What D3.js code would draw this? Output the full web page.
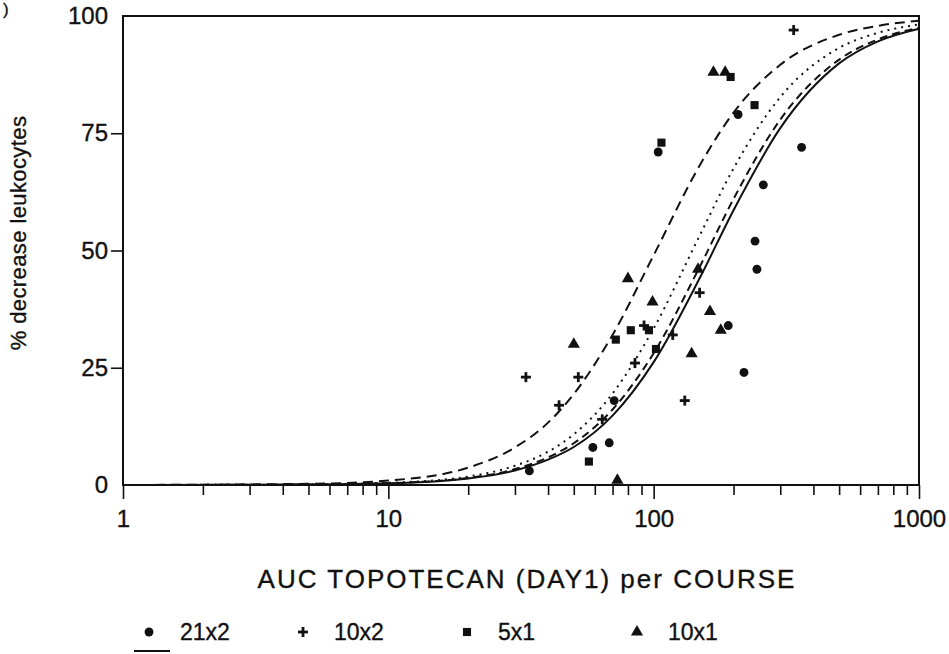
<!DOCTYPE html>
<html>
<head>
<meta charset="utf-8">
<script src="https://cdn.jsdelivr.net/npm/d3@7/dist/d3.min.js"></script>
<style>
  html, body { margin: 0; padding: 0; background: #fff; }
  svg { display: block; }
  text { font-family: "Liberation Sans", Arial, Helvetica, sans-serif; fill: #111; stroke: #111; stroke-width: 0.35px; }
</style>
</head>
<body>
<svg id="chart" width="949" height="654"></svg>
<script>
// Observed leukocyte decrease (%) against AUC per course, by schedule
const sched21x2 = [[34,3],[59,8],[68,9],[71,18],[104,71],[191,34],[208,79],[219,24],[241,52],[245,46],[259,64],[361,72]];
const sched10x2 = [[33,23],[44,17],[52,23],[64,14],[85,26],[92,34],[118,32],[131,18],[149,41],[337,97]];
const sched5x1  = [[57,5],[72,31],[82,33],[96,33],[102,29],[107,73],[195,87],[240,81]];
const sched10x1 = [[50,30],[73,1],[80,44],[99,39],[139,28],[147,46],[163,37],[179,33],[168,88],[186,88]];

// Fitted response curves, sampled along the AUC axis
const curveAuc      = [1, 5, 10, 20, 30, 40, 50, 70, 100, 150, 200, 300, 500, 700, 1000];
const curveLongDash = [0, 0.24, 0.95, 3.7, 8.0, 13.3, 19.4, 32.0, 49.0, 68.4, 79.4, 89.6, 96.0, 97.9, 99.0];
const curveDotted   = [0, 0.11, 0.45, 1.8, 4.1, 7.1, 10.8, 19.5, 33.4, 53.5, 67.5, 82.7, 93.2, 96.4, 98.2];
const curveDashed   = [0, 0.10, 0.39, 1.5, 3.4, 5.9, 8.9, 16.1, 28.1, 46.8, 61.0, 77.9, 90.7, 95.0, 97.5];
const curveSolid    = [0, 0.09, 0.35, 1.4, 3.1, 5.4, 8.1, 14.8, 26.2, 44.4, 58.6, 76.1, 89.9, 94.6, 97.3];

const xTickLabels = [1, 10, 100, 1000];
const yTickLabels = [0, 25, 50, 75, 100];
const legendNames = ["21x2", "10x2", "5x1", "10x1"];

const svg = d3.select("#chart");
const plotLeft = 123, plotRight = 919, plotTop = 16, plotBottom = 485;

const x = d3.scaleLog().domain([1, 1000]).range([plotLeft, plotRight]);
const y = d3.scaleLinear().domain([0, 100]).range([plotBottom, plotTop]);

// panel-label fragment at the corner
svg.append("text").attr("x", 3).attr("y", 15).attr("font-size", 17).text(")");

// x axis: log ticks pointing down
const minorTicks = [];
for (let d = 1; d < 1000; d *= 10) {
  for (let k = 2; k <= 9; k++) minorTicks.push(d * k);
}
const xAxisMinor = d3.axisBottom(x).tickValues(minorTicks).tickSize(10).tickFormat("");
const gxm = svg.append("g").attr("transform", `translate(0,${plotBottom})`).call(xAxisMinor);
gxm.select(".domain").remove();
gxm.selectAll("line").attr("stroke", "#111").attr("stroke-width", 1.6);

const xAxisMajor = d3.axisBottom(x).tickValues(xTickLabels).tickSize(14).tickPadding(11).tickFormat(d3.format("d"));
const gx = svg.append("g").attr("transform", `translate(0,${plotBottom})`).call(xAxisMajor);
gx.select(".domain").remove();
gx.selectAll("line").attr("stroke", "#111").attr("stroke-width", 1.6);
gx.selectAll("text").attr("font-size", 24).attr("font-family", "Liberation Sans, Arial, sans-serif").attr("fill", "#111");

// y axis
const yAxis = d3.axisLeft(y).tickValues(yTickLabels).tickSize(12).tickPadding(4).tickFormat(d3.format("d"));
const gy = svg.append("g").attr("transform", `translate(${plotLeft},0)`).call(yAxis);
gy.select(".domain").remove();
gy.selectAll(".tick line").attr("stroke", "#111").attr("stroke-width", 1.6)
  .attr("x2", d => (d === 0 || d === 100) ? 0 : -12);
gy.selectAll("text").attr("font-size", 24).attr("font-family", "Liberation Sans, Arial, sans-serif").attr("fill", "#111")
  .attr("x", -15);

// frame
svg.append("rect").attr("x", plotLeft).attr("y", plotTop)
  .attr("width", plotRight - plotLeft).attr("height", plotBottom - plotTop)
  .attr("fill", "none").attr("stroke", "#111").attr("stroke-width", 2);

// curves
const line = d3.line().x(d => x(d[0])).y(d => y(d[1])).curve(d3.curveMonotoneX);
const curves = [
  { values: curveLongDash, dash: "10,6" },
  { values: curveDotted,   dash: "2,5" },
  { values: curveDashed,   dash: "8,5" },
  { values: curveSolid,    dash: null }
];
curves.forEach(c => {
  svg.append("path")
    .datum(curveAuc.map((a, i) => [a, c.values[i]]))
    .attr("d", line)
    .attr("fill", "none")
    .attr("stroke", "#111")
    .attr("stroke-width", 2)
    .attr("stroke-dasharray", c.dash);
});

// marker shapes
const sym = {
  circle: d3.symbol().type(d3.symbolCircle).size(62),
  square: d3.symbol().type(d3.symbolSquare).size(66),
  triangle: d3.symbol().type(d3.symbolTriangle).size(64)
};
const series = [
  { data: sched21x2, shape: "circle" },
  { data: sched10x2, shape: "plus" },
  { data: sched5x1,  shape: "square" },
  { data: sched10x1, shape: "triangle" }
];

function drawMarker(g, shape, cx, cy) {
  if (shape === "plus") {
    const p = g.append("g").attr("transform", `translate(${cx},${cy})`);
    p.append("line").attr("x1", -5).attr("x2", 5).attr("y1", 0).attr("y2", 0).attr("stroke", "#111").attr("stroke-width", 2.8);
    p.append("line").attr("x1", 0).attr("x2", 0).attr("y1", -5).attr("y2", 5).attr("stroke", "#111").attr("stroke-width", 2.8);
  } else {
    g.append("path").attr("d", sym[shape]()).attr("transform", `translate(${cx},${cy})`).attr("fill", "#111");
  }
}

const gPts = svg.append("g");
series.forEach(s => {
  s.data.forEach(d => drawMarker(gPts, s.shape, x(d[0]), y(d[1])));
});

// axis titles
svg.append("text")
  .attr("transform", `translate(26,233) rotate(-90)`)
  .attr("text-anchor", "middle")
  .attr("font-size", 22)
  .attr("letter-spacing", 0.4)
  .text("% decrease leukocytes");

svg.append("text")
  .attr("x", 527).attr("y", 588)
  .attr("text-anchor", "middle")
  .attr("font-size", 26)
  .attr("letter-spacing", 2)
  .text("AUC TOPOTECAN (DAY1) per COURSE");

// legend
const legendX = [149, 303, 467, 637];
const legendY = 632;
const gl = svg.append("g");
series.forEach((s, i) => {
  drawMarker(gl, s.shape, legendX[i], legendY);
  gl.append("text").attr("x", legendX[i] + 31).attr("y", legendY + 8).attr("font-size", 23).text(legendNames[i]);
});
gl.append("line").attr("x1", 134).attr("x2", 170).attr("y1", 651).attr("y2", 651)
  .attr("stroke", "#111").attr("stroke-width", 2);
</script>
</body>
</html>
